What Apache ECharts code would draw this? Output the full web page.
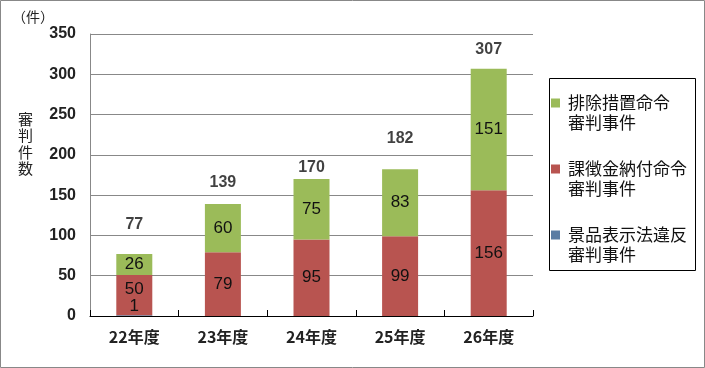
<!DOCTYPE html>
<html><head><meta charset="utf-8">
<script src="https://cdn.jsdelivr.net/npm/echarts@6/dist/echarts.min.js"></script>
<style>html,body{margin:0;padding:0;background:#fff}#c{width:705px;height:368px}</style>
</head><body><div id="c"></div>
<script>
const categories = ['22年度', '23年度', '24年度', '25年度', '26年度'];
const keihinValues = [1, 0, 0, 0, 0];
const kachokinValues = [50, 79, 95, 99, 156];
const haijoValues = [26, 60, 75, 83, 151];
const totalValues = [77, 139, 170, 182, 307];
const yTicks = { min: 0, max: 350, interval: 50 };
const seriesNames = ['排除措置命令\n審判事件', '課徴金納付命令\n審判事件', '景品表示法違反\n審判事件'];

const totalLift = [21, 13, 3, 22, 11];
const jp = '"Noto Sans CJK JP", "Noto Sans", sans-serif';
const numFont = '"Liberation Sans", Arial, sans-serif';

const chart = echarts.init(document.getElementById('c'), null, { renderer: 'canvas' });
chart.setOption({
  animation: false,
  backgroundColor: '#fff',
  grid: { left: 90, right: 172, top: 34, bottom: 52, containLabel: false },
  legend: {
    orient: 'vertical', left: 551, top: 73, padding: 0, itemGap: 6,
    itemWidth: 9, itemHeight: 9, icon: 'rect',
    data: [seriesNames[0], seriesNames[1], seriesNames[2]],
    formatter: n => ' \n' + n,
    textStyle: { fontFamily: jp, fontSize: 17, lineHeight: 20, color: '#111', padding: [0, 0, 0, 3] }
  },
  xAxis: {
    type: 'category', data: categories,
    axisLine: { lineStyle: { color: '#000', width: 1 } },
    axisTick: { show: true, inside: true, length: 6, lineStyle: { color: '#000' } },
    axisLabel: { fontFamily: jp, fontSize: 16, fontWeight: 'bold', color: '#222', margin: 13 }
  },
  yAxis: {
    type: 'value', min: yTicks.min, max: yTicks.max, interval: yTicks.interval,
    axisLine: { show: true, lineStyle: { color: '#888' } },
    axisTick: { show: false },
    splitLine: { lineStyle: { color: '#888', width: 1 } },
    axisLabel: { fontFamily: numFont, fontSize: 16, fontWeight: 'bold', color: '#222', margin: 14 }
  },
  series: [
    {
      name: seriesNames[2], type: 'bar', stack: 's', barWidth: 36,
      itemStyle: { color: '#5A7CA3' },
      data: keihinValues,
      label: { show: true, position: 'inside', offset: [0, -9], fontFamily: numFont, fontSize: 17, color: '#111',
        formatter: p => p.value ? p.value : '' }
    },
    {
      name: seriesNames[1], type: 'bar', stack: 's', barWidth: 36,
      itemStyle: { color: '#B85450' },
      data: kachokinValues.map((v, i) => i === 0 ? { value: v, label: { offset: [0, -6] } } : v),
      label: { show: true, position: 'inside', fontFamily: numFont, fontSize: 17, color: '#111' }
    },
    {
      name: seriesNames[0], type: 'bar', stack: 's', barWidth: 36,
      itemStyle: { color: '#9BBB59' },
      data: haijoValues,
      label: { show: true, position: 'inside', fontFamily: numFont, fontSize: 17, color: '#111' }
    },
    {
      name: 'total', type: 'scatter', symbolSize: 1, itemStyle: { color: 'rgba(0,0,0,0)' },
      data: totalValues.map((v, i) => ({ value: v, label: { distance: totalLift[i] } })),
      label: { show: true, position: 'top', fontFamily: numFont, fontSize: 16, fontWeight: 'bold', color: '#111' },
      z: 5
    }
  ],
  graphic: [
    { type: 'rect', shape: { x: 0.5, y: 0.5, width: 704, height: 367 }, style: { fill: null, stroke: '#888', lineWidth: 1 }, silent: true },
    { type: 'rect', shape: { x: 549.5, y: 78.5, width: 146, height: 192 }, style: { fill: null, stroke: '#000', lineWidth: 1 }, silent: true },
    { type: 'text', left: 12, top: 10, style: { text: '（件）', font: '14px ' + jp, fill: '#222' } },
    { type: 'text', left: 18, top: 111, style: { text: '審\n判\n件\n数', font: '15px ' + jp, lineHeight: 16.5, fill: '#222' } }
  ]
});
</script></body></html>
